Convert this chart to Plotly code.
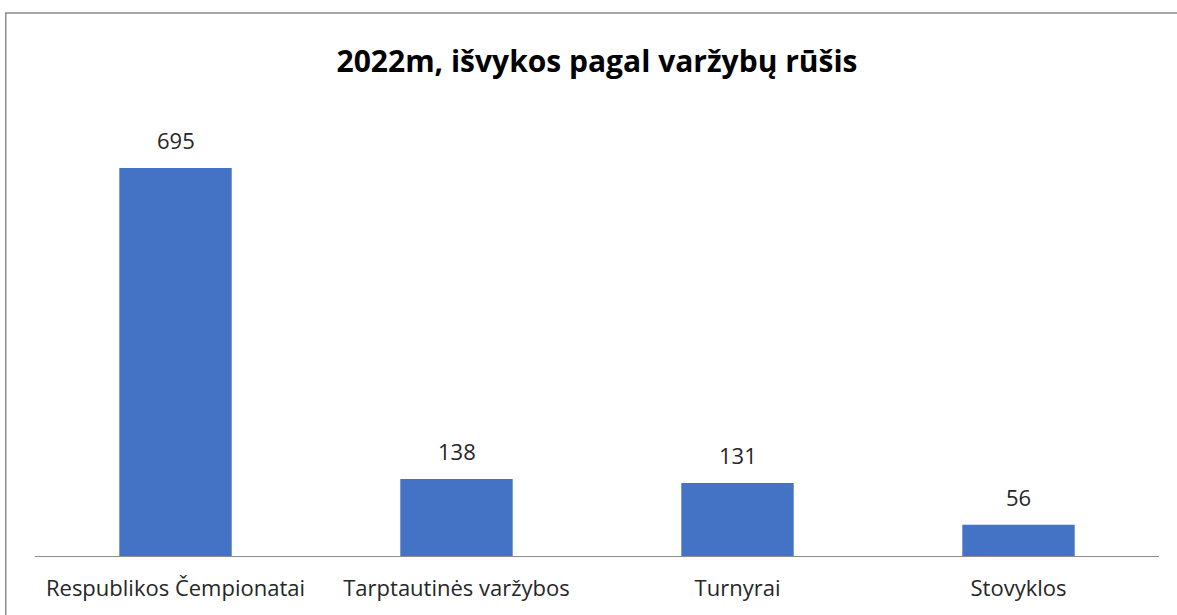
import plotly.graph_objects as go

categories = ["Respublikos Čempionatai", "Tarptautinės varžybos", "Turnyrai", "Stovyklos"]
trips = [695, 138, 131, 56]

BAR_COLOR = "#4472C4"
TEXT_COLOR = "#262626"
FONT = "Open Sans"

fig = go.Figure()
fig.add_bar(x=categories, y=trips, marker_color=BAR_COLOR, marker_line_width=0)

for cat, val in zip(categories, trips):
    fig.add_annotation(
        x=cat, y=val, text=str(val), showarrow=False,
        yanchor="bottom", yshift=11,
        font=dict(family=FONT, size=22, color=TEXT_COLOR),
    )

# chart frame
fig.add_shape(
    type="rect", xref="paper", yref="paper",
    x0=-0.026, x1=1.05, y0=-0.2, y1=1.191,
    line=dict(color="#8c8c8c", width=1.5), layer="above",
)

fig.update_layout(
    width=1177, height=615,
    margin=dict(l=35, r=18, t=100, b=59),
    paper_bgcolor="white", plot_bgcolor="white",
    bargap=0.6,
    showlegend=False,
    title=dict(
        text="<b>2022m, išvykos pagal varžybų rūšis</b>",
        x=0.5, xref="paper", y=0.9, yanchor="middle",
        font=dict(family=FONT, size=30, color="black"),
    ),
    font=dict(family=FONT, size=22, color=TEXT_COLOR),
)
fig.update_xaxes(
    showline=True, linecolor="#8c8c8c", linewidth=1,
    ticks="", ticklabelstandoff=13,
    tickfont=dict(family=FONT, size=22, color=TEXT_COLOR),
)
fig.update_yaxes(range=[0, 817], visible=False, showgrid=False, zeroline=False)

fig.write_html(
    "out.html",
    config={"displayModeBar": False},
    post_script="document.body.style.margin='0';",
)
